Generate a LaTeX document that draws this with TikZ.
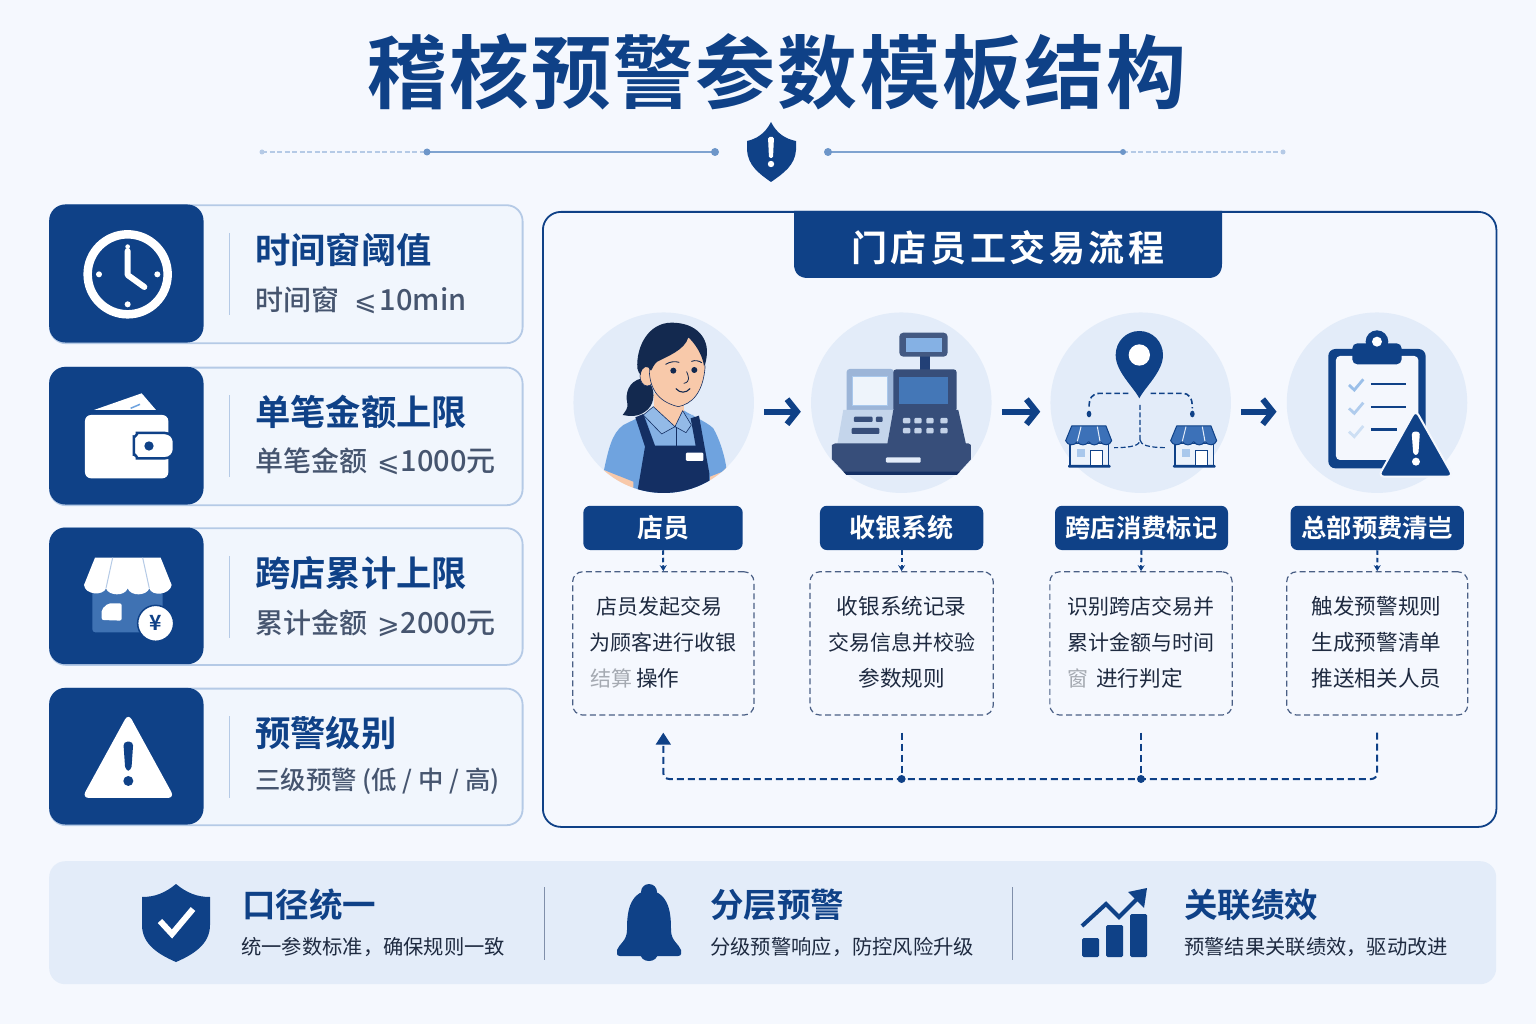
\documentclass[tikz,border=0pt]{standalone}
\usepackage{fontspec}
\setmainfont{Noto Sans CJK SC}[BoldFont={Noto Sans CJK SC Bold}]
\newfontfamily\medfont{Noto Sans CJK SC Medium}
\newfontfamily\symfont{DejaVu Sans}
\usetikzlibrary{arrows.meta}
\newcommand{\fsz}[1]{\fontsize{#1}{#1}\selectfont}
\definecolor{navy}{HTML}{0F4187}
\definecolor{pagebg}{HTML}{F5F8FE}
\definecolor{pale}{HTML}{E3ECF9}
\definecolor{cardfill}{HTML}{F1F6FD}
\definecolor{cardline}{HTML}{B5CAE6}
\definecolor{subtext}{HTML}{46556F}
\definecolor{bodytext}{HTML}{1E2A40}
\definecolor{dashline}{HTML}{4A5F85}
\definecolor{midblue}{HTML}{6FA3DF}
\definecolor{hairdark}{HTML}{13294F}
\definecolor{apron}{HTML}{142F63}
\definecolor{skin}{HTML}{F8C9AA}
\definecolor{awning}{HTML}{3C71B8}
\tikzset{
  cardbox/.style={draw=cardline,line width=1.8pt,fill=cardfill,rounded corners=16pt,inner sep=0,anchor=north west,minimum width=472.7pt},
  tilebox/.style={fill=navy,rounded corners=16pt,inner sep=0,anchor=north west,minimum width=154.3pt},
  cardtitle/.style={anchor=west,inner sep=0,text=navy,font=\fsz{35.3}\bfseries},
  cardsub/.style={anchor=west,inner sep=0,text=subtext,font=\medfont\fsz{28}},
  pill/.style={fill=navy,rounded corners=7pt,inner sep=0,minimum height=44.3pt,text=white,font=\fsz{26}\bfseries},
  detailbox/.style={draw=dashline,line width=1.2pt,dash pattern=on 6pt off 3.5pt,rounded corners=10pt,inner sep=0,minimum height=143.3pt},
  detailtext/.style={inner sep=0,text=bodytext,font=\fsz{21}},
  detailsix/.style={inner sep=0,text=bodytext,font=\fsz{21.6}},
  faded/.style={inner sep=0,text=bodytext!40,font=\fsz{21},anchor=west},
  discbox/.style={circle,fill=pale,inner sep=0,minimum size=180.5pt},
  flowarrow/.style={draw=navy,line width=6pt,-{Straight Barb[length=10pt,width=25pt,line width=6pt]},shorten <=10pt,shorten >=10pt},
  linkdash/.style={draw=navy,line width=2pt,dash pattern=on 4.5pt off 3pt},
  feedback/.style={draw=navy,line width=2pt,dash pattern=on 7pt off 4pt},
  stripetitle/.style={anchor=west,inner sep=0,text=navy,font=\fsz{33.5}\bfseries},
  stripesub/.style={anchor=west,inner sep=0,text=bodytext,font=\fsz{20.3}},
}
\begin{document}
\begin{tikzpicture}[x=1pt,y=-1pt]
\useasboundingbox (0,0) rectangle (1536,1024);
\fill[pagebg] (0,0) rectangle (1536,1024);

% header
\node[inner sep=0,text=navy,font=\fsz{80}\bfseries] (maintitle) at (777,72) {\addfontfeature{LetterSpace=2.6}稽核预警参数模板结构};
\coordinate (o1) at (262,152); \coordinate (o2) at (427,152); \coordinate (o3) at (715,152);
\coordinate (o4) at (828,152); \coordinate (o5) at (1123,152); \coordinate (o6) at (1283,152);
\draw[cardline,line width=1.6pt,dash pattern=on 5pt off 2.5pt] (o1) -- (o2) (o5) -- (o6);
\draw[color=midblue!60!navy!70!white,line width=2pt] (o2) -- (o3) (o4) -- (o5);
\fill[cardline] (o1) circle (2.5) (o6) circle (2.5);
\fill[color=midblue!60!navy!80!white] (o2) circle (3.5) (o3) circle (4) (o4) circle (4) (o5) circle (3);
\fill[navy] (771,122) .. controls (765,134) and (756,139) .. (747,141) -- (747,150) .. controls (748,165) and (758,173) .. (771,182) .. controls (784,173) and (795,165) .. (796,150) -- (796,141) .. controls (786,139) and (777,134) .. (771,122) -- cycle;
\fill[white,rounded corners=1.5pt] (768,137) -- (774,137) -- (773,158) -- (769,158) -- cycle;
\fill[white] (771,164) circle (3.2);

% left cards
\foreach \nm/\yy/\hh in {1/204.3/138,2/366.7/137.6,3/527.3/136.7,4/687.7/136.6}{
  \node[cardbox,minimum height=\hh pt] (card\nm) at (49,\yy) {};
  \node[tilebox,minimum height=\hh pt] (tile\nm) at (49,\yy) {};
  \draw[cardline,line width=1.4pt] (229.3,\yy+28.5) -- (229.3,\yy+110.5);
}
\node[cardtitle] (t1) at (255,250) {时间窗阈值};
\node[cardsub] (s1) at (255,300.7) {时间窗\hspace{15pt}{\symfont\fsz{27}⩽}\hspace{3pt}{\fsz{29}10min}};
\node[cardtitle] (t2) at (255,412) {单笔金额上限};
\node[cardsub] (s2) at (255,461.7) {单笔金额\hspace{10pt}{\symfont\fsz{27}⩽}\hspace{1pt}{\fsz{29}1000元}};
\node[cardtitle] (t3) at (255,573) {跨店累计上限};
\node[cardsub] (s3) at (255,623) {累计金额\hspace{10pt}{\symfont\fsz{27}⩾}\hspace{1pt}{\fsz{29}2000元}};
\node[cardtitle] (t4) at (255,733) {预警级别};
\node[cardsub,font=\medfont\fsz{25.4}] (s4) at (255,781.7) {三级预警 (低 / 中 / 高)};

% clock + wallet icons
\begin{scope}[shift={(40,195)},x=0.3333pt,y=-0.3333pt]
  \draw[white,line width=8.5pt] (263,238) circle (120);
  \draw[white,line width=6pt,line cap=round,line join=round] (263,168) -- (263,240) -- (313,276);
  \fill[white] (263,155) circle (7) (177,238) circle (9) (352,238) circle (9) (263,328) circle (9);
  \fill[white] (162,645) -- (305,595) -- (348,645) -- cycle;
  \draw[midblue,line width=1.5pt] (272,640) -- (300,628);
  \fill[white,rounded corners=6pt] (135,660) rectangle (385,850);
  \filldraw[fill=white,draw=navy,line width=2.5pt,rounded corners=9pt] (402,714) -- (318,714) .. controls (295,714) and (282,730) .. (282,752) .. controls (282,775) and (295,790) .. (318,790) -- (402,790) -- cycle;
  \fill[navy] (327,753) circle (14);
\end{scope}

% store + warning icons
\begin{scope}[shift={(40,520)},x=0.3333pt,y=-0.3333pt]
  \fill[color=midblue!50!navy,rounded corners=3pt] (157,190) rectangle (368,337);
  \fill[white,rounded corners=2pt] (185,300) -- (185,268) -- (205,250) -- (245,250) -- (245,302) -- cycle;
  \filldraw[fill=white,draw=none] (165,113) -- (362,113) -- (395,195) .. controls (390,225) and (335,230) .. (328,205) .. controls (320,228) and (272,230) .. (263,205) .. controls (255,230) and (205,228) .. (198,205) .. controls (190,228) and (135,225) .. (132,195) -- cycle;
  \draw[cardline,line width=1pt] (218,113) -- (198,205) (308,113) -- (328,205);
  \filldraw[fill=white,draw=navy,line width=1.5pt] (347,310) circle (54);
  \node[inner sep=0,text=navy,font=\fsz{21}\bfseries] (yen) at (348,310) {¥};
  \fill[white,rounded corners=7pt] (265,580) -- (404,834) -- (126,834) -- cycle;
  \fill[navy,rounded corners=4pt] (250,665) -- (280,665) -- (274,752) -- (256,752) -- cycle;
  \fill[navy] (265,783) circle (15);
\end{scope}

% main panel
\node[draw=navy,line width=1.8pt,fill=pagebg,rounded corners=18pt,inner sep=0,anchor=north west,minimum width=953.5pt,minimum height=615pt] (panel) at (542,211) {};
\fill[navy] (794,211) -- (794,264) .. controls (794,273) and (799,278) .. (808,278) -- (1208,278) .. controls (1217,278) and (1222,273) .. (1222,264) -- (1222,211) -- cycle;
\node[inner sep=0,text=white,font=\fsz{36}\bfseries] (paneltitle) at (1008,248) {\addfontfeature{LetterSpace=10}门店员工交易流程};

% discs
\node[discbox] (c1) at (663.7,402.7) {};
\node[discbox] (c2) at (901.3,402.7) {};
\node[discbox] (c3) at (1140.7,402.7) {};
\node[discbox] (c4) at (1377,402.7) {};
\draw[flowarrow] ([yshift=-9pt]c1.east) -- ([yshift=-9pt]c2.west);
\draw[flowarrow] ([yshift=-9pt]c2.east) -- ([yshift=-9pt]c3.west);
\draw[flowarrow] ([yshift=-9pt]c3.east) -- ([yshift=-9pt]c4.west);

% person
\begin{scope}[shift={(550,300)},x=0.3333pt,y=-0.3333pt]
  \begin{scope}
    \clip (341,308) circle (271);
    \fill[skin] (160,510) -- (255,540) -- (255,600) -- (160,600) -- cycle (475,530) -- (535,500) -- (535,600) -- (475,600) -- cycle;
    \fill[midblue] (162,510) .. controls (175,450) and (185,400) .. (220,375) .. controls (250,360) and (285,345) .. (300,330) -- (400,330) .. controls (420,345) and (470,365) .. (490,385) .. controls (510,420) and (525,470) .. (530,510) -- (480,530) -- (480,600) -- (250,600) -- (250,545) -- cycle;
    \fill[color=midblue!85!white] (285,345) -- (430,345) -- (437,437) -- (315,437) -- cycle;
    \fill[apron] (256,352) -- (280,342) -- (315,437) -- (437,437) -- (422,355) -- (447,347) -- (478,520) -- (478,600) -- (258,600) -- (285,440) -- cycle;
    \fill[white,rounded corners=1pt] (408,458) rectangle (460,483);
  \end{scope}
  \fill[hairdark] (275,235) .. controls (235,245) and (225,280) .. (232,310) .. controls (235,325) and (225,335) .. (218,345) .. controls (240,350) and (265,350) .. (285,335) .. controls (310,320) and (320,280) .. (300,250) -- cycle;
  \fill[skin] (312,280) -- (312,325) -- (375,380) -- (402,335) -- (402,280) -- cycle;
  \filldraw[fill=midblue!75!white,draw=apron,line width=0.6pt,line join=round] (310,320) -- (375,380) -- (335,402) -- (280,345) -- cycle;
  \filldraw[fill=midblue!75!white,draw=apron,line width=0.6pt,line join=round] (398,332) -- (424,375) -- (408,398) -- (375,380) -- cycle;
  \draw[apron,line width=0.6pt] (378,382) -- (378,437);
  \filldraw[fill=skin,draw=apron,line width=0.6pt] (292,228) ellipse (22 and 30);
  \filldraw[fill=skin,draw=apron,line width=0.6pt] (298,200) .. controls (296,260) and (320,305) .. (385,320) .. controls (425,312) and (458,280) .. (465,205) .. controls (468,170) and (440,120) .. (420,110) -- (320,150) -- cycle;
  \fill[hairdark] (262,205) .. controls (258,140) and (295,68) .. (365,68) .. controls (440,68) and (478,115) .. (470,170) .. controls (468,185) and (465,195) .. (462,198) .. controls (458,165) and (435,130) .. (415,112) .. controls (405,150) and (350,170) .. (322,185) .. controls (312,192) and (308,205) .. (303,212) .. controls (295,195) and (275,195) .. (272,225) .. controls (268,220) and (264,215) .. (262,205) -- cycle;
  \fill[hairdark] (370,212) circle (9) (433,210) circle (9);
  \draw[hairdark,line width=0.9pt,line cap=round] (347,193) .. controls (360,185) and (375,183) .. (387,187) (425,184) .. controls (435,180) and (447,182) .. (455,188);
  \draw[hairdark,line width=0.8pt,line cap=round] (410,215) .. controls (416,230) and (422,245) .. (402,250);
  \draw[hairdark,line width=1.1pt,line cap=round] (378,266) .. controls (390,280) and (408,280) .. (420,266);
\end{scope}

% register
\begin{scope}[shift={(550,300)},x=0.3333pt,y=-0.3333pt]
  \fill[color=apron!85!midblue] (1110,165) rectangle (1140,215);
  \fill[color=apron!80!white,rounded corners=4pt] (1048,98) rectangle (1193,170);
  \fill[midblue!85!white] (1067,113) rectangle (1175,155);
  \fill[color=cardline!85!navy,rounded corners=3pt] (890,207) rectangle (1032,340);
  \filldraw[fill=pale!60!white,draw=midblue!60!white,line width=0.5pt] (907,228) rectangle (1012,315);
  \fill[color=apron!85!white,rounded corners=3pt] (1030,208) rectangle (1220,335);
  \fill[color=midblue!55!navy] (1046,230) rectangle (1195,313);
  \fill[cardline!80!white] (880,330) -- (1030,330) -- (1012,432) -- (862,432) -- cycle;
  \fill[color=apron!85!white] (1030,330) -- (1225,330) -- (1248,432) -- (1012,432) -- cycle;
  \foreach \kx in {1070,1104,1140,1182}{
    \fill[pale!85!navy,rounded corners=1pt] (\kx-11,354) rectangle (\kx+11,370);
    \fill[pale!85!navy,rounded corners=1pt] (\kx-11,384) rectangle (\kx+11,400);
  }
  \fill[color=apron!85!white,rounded corners=1pt] (912,350) rectangle (968,366) (978,350) rectangle (998,366) (905,384) rectangle (988,402);
  \fill[color=apron!85!white] (846,435) -- (856,430) -- (1255,430) -- (1263,435) -- (1263,478) -- (1220,525) -- (890,525) -- (846,478) -- cycle;
  \fill[apron] (880,515) -- (1230,515) -- (1220,525) -- (890,525) -- cycle;
  \fill[pale,rounded corners=1pt] (1008,472) rectangle (1112,488);
\end{scope}

% location + stores, clipboard
\begin{scope}[shift={(1020,300)},x=0.3333pt,y=-0.3333pt]
  \fill[navy] (358,295) .. controls (340,260) and (287,215) .. (287,165) .. controls (287,125) and (318,93) .. (358,93) .. controls (398,93) and (429,125) .. (429,165) .. controls (429,215) and (376,260) .. (358,295) -- cycle;
  \fill[white] (358,165) circle (32);
  \draw[navy,line width=1.6pt,dash pattern=on 5.5pt off 3pt] (325,280) -- (240,280) .. controls (215,280) and (207,295) .. (207,325);
  \draw[navy,line width=1.6pt,dash pattern=on 5.5pt off 3pt] (392,280) -- (485,280) .. controls (510,280) and (517,295) .. (517,325);
  \fill[navy] (207,342) ellipse (7 and 10) (517,342) ellipse (7 and 10);
  \draw[navy,line width=1.2pt,dash pattern=on 5pt off 2.5pt] (360,315) -- (360,420) .. controls (360,435) and (340,443) .. (282,443);
  \draw[navy,line width=1.2pt,dash pattern=on 5pt off 2.5pt] (360,420) .. controls (362,435) and (385,443) .. (440,443);
  \foreach \sx in {0,315}{
    \begin{scope}[xshift=\sx*0.3333pt]
      \filldraw[fill=pale!70!white,draw=navy,line width=1.2pt,line join=round] (150,430) rectangle (266,498);
      \fill[navy,rounded corners=1pt] (144,495) rectangle (272,503);
      \filldraw[fill=awning,draw=navy,line width=1pt,line join=round] (155,378) -- (258,378) -- (275,422) .. controls (270,438) and (250,438) .. (240,425) .. controls (230,438) and (215,438) .. (206,425) .. controls (198,438) and (180,438) .. (172,425) .. controls (165,438) and (142,438) .. (137,422) -- cycle;
      \draw[pale,line width=1pt] (183,380) -- (172,424) (232,380) -- (240,424);
      \fill[midblue!60!white] (170,448) rectangle (195,470);
      \filldraw[fill=white,draw=navy,line width=0.8pt] (210,450) rectangle (248,495);
    \end{scope}
  }
  % clipboard
  \fill[navy,rounded corners=7pt] (925,147) rectangle (1217,505);
  \fill[pale!40!white,rounded corners=4pt] (948,168) rectangle (1195,480);
  \fill[navy] (1071,125) circle (34);
  \fill[navy,rounded corners=5pt] (997,130) rectangle (1145,193);
  \fill[white] (1071,125) circle (15);
  \draw[color=midblue!70!white,line width=2.8pt] (987,255) -- (1003,270) -- (1030,238);
  \draw[color=midblue!55!white,line width=2.8pt] (987,325) -- (1003,340) -- (1030,308);
  \draw[color=midblue!35!white,line width=2.8pt] (987,395) -- (1003,410) -- (1030,378);
  \draw[navy,line width=2.5pt] (1053,252) -- (1157,252) (1053,321) -- (1157,321) (1053,389) -- (1130,389);
  \filldraw[fill=navy,draw=pale!40!white,line width=2pt,rounded corners=6pt,line join=round] (1187,330) -- (1300,530) -- (1075,530) -- cycle;
  \fill[white,rounded corners=3pt] (1175,395) -- (1200,395) -- (1195,465) -- (1180,465) -- cycle;
  \fill[white] (1188,485) circle (12);
\end{scope}

% pills
\node[pill,minimum width=159.4pt] (p1) at (663,527.9) {店员};
\node[pill,minimum width=163.3pt] (p2) at (901.6,527.9) {收银系统};
\node[pill,minimum width=173pt,font=\fsz{25.3}\bfseries] (p3) at (1141.5,527.9) {跨店消费标记};
\node[pill,minimum width=173.3pt,font=\fsz{25.3}\bfseries] (p4) at (1377.3,527.9) {总部预费清岂};

% detail boxes
\node[detailbox,minimum width=181.3pt] (d1) at (663.3,643.4) {};
\node[detailbox,minimum width=183.3pt] (d2) at (901.6,643.4) {};
\node[detailbox,minimum width=182.3pt] (d3) at (1141,643.4) {};
\node[detailbox,minimum width=181pt] (d4) at (1377.2,643.4) {};
\foreach \i in {1,2,3,4}{
  \draw[linkdash,-{Stealth[length=6pt,width=7pt]}] (p\i.south) -- (d\i.north);
}
\node[detailtext] (l11) at (659,606.7) {店员发起交易};
\node[detailtext] (l12) at (663,642.7) {为顾客进行收银};
\node[faded] (l13a) at (590,678.7) {结算};
\node[detailsix,anchor=west] (l13) at (636,678.7) {操作};
\node[detailsix] (l21) at (901.6,606.7) {收银系统记录};
\node[detailtext] (l22) at (901.6,642.7) {交易信息并校验};
\node[detailsix] (l23) at (901.6,678.7) {参数规则};
\node[detailtext] (l31) at (1140.5,606.7) {识别跨店交易并};
\node[detailtext] (l32) at (1140.5,642.7) {累计金额与时间};
\node[faded] (l33a) at (1067,678.7) {窗};
\node[detailsix,anchor=west] (l33) at (1096,678.7) {进行判定};
\node[detailsix] (l41) at (1376.5,606.7) {触发预警规则};
\node[detailsix] (l42) at (1376.5,642.7) {生成预警清单};
\node[detailsix] (l43) at (1376.5,678.7) {推送相关人员};

% feedback loop
\coordinate (fa) at (1377.2,779); \coordinate (fb) at (663.3,779);
\coordinate (j2) at (901.6,779); \coordinate (j3) at (1141,779);
\draw[feedback,rounded corners=6pt,shorten <=17pt,shorten >=17pt,-{Triangle[length=12pt,width=15pt]}] (d4.south) -- (fa) -- (fb) -- (d1.south);
\draw[feedback,shorten <=17pt] (d2.south) -- (j2);
\draw[feedback,shorten <=17pt] (d3.south) -- (j3);
\fill[navy] (j2) circle (4) (j3) circle (4);

% bottom strip
\node[fill=pale,rounded corners=16pt,inner sep=0,anchor=north west,minimum width=1447pt,minimum height=123pt] (strip) at (49,861) {};
\draw[color=dashline!70!white,line width=1pt] (544,887) -- (544,960) (1012,887) -- (1012,960);
% shield
\fill[navy] (176,884) .. controls (165,893) and (155,897) .. (142,897) -- (142,925) .. controls (142,945) and (160,955) .. (176,962) .. controls (192,955) and (210,945) .. (210,925) -- (210,897) .. controls (197,897) and (187,893) .. (176,884) -- cycle;
\draw[white,line width=6pt] (160,921) -- (172,934) -- (193,909);
\node[stripetitle] (b1) at (242,905) {口径统一};
\node[stripesub] (b1s) at (241,947) {统一参数标准，确保规则一致};
% bell
\fill[navy] (649,892) circle (8);
\fill[navy] (649,890) .. controls (628,893) and (627,915) .. (627,930) .. controls (627,941) and (619,944) .. (617,950) -- (617,954) .. controls (617,955) and (618,956) .. (620,956) -- (678,956) .. controls (680,956) and (681,955) .. (681,954) -- (681,950) .. controls (679,944) and (671,941) .. (671,930) .. controls (671,915) and (670,893) .. (649,890) -- cycle;
\fill[navy] (640,952) -- (658,952) .. controls (658,958) and (654,961) .. (649,961) .. controls (644,961) and (640,958) .. (640,952) -- cycle;
\node[stripetitle] (b2) at (710,905) {分层预警};
\node[stripesub] (b2s) at (710,947) {分级预警响应，防控风险升级};
% chart
\fill[navy,rounded corners=1.5pt] (1082,938) rectangle (1099,957) (1106,925) rectangle (1123,957) (1130,914) rectangle (1147,957);
\draw[navy,line width=4pt,line join=miter] (1082,926) -- (1106,904) -- (1119,917) -- (1140,896);
\fill[navy] (1147,888) -- (1128,892) -- (1144,908) -- cycle;
\node[stripetitle] (b3) at (1184,905) {关联绩效};
\node[stripesub] (b3s) at (1184,947) {预警结果关联绩效，驱动改进};
\end{tikzpicture}
\end{document}
